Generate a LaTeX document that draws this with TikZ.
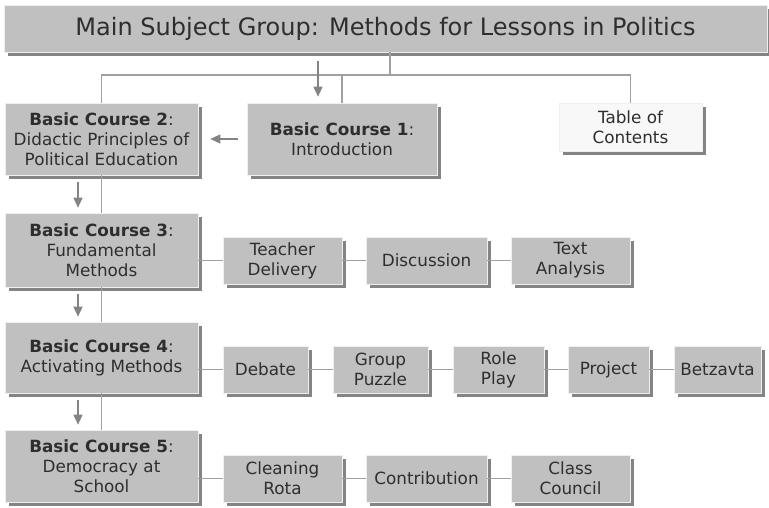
\documentclass[tikz,border=0pt]{standalone}
\usepackage{fontspec}
\setmainfont{DejaVu Sans}
\usetikzlibrary{arrows.meta,shadows}

\definecolor{boxgray}{HTML}{C0C0C0}
\definecolor{shadegray}{HTML}{848484}
\definecolor{linegray}{HTML}{A0A0A0}
\definecolor{txtgray}{HTML}{2E2E2E}
\definecolor{tocwhite}{HTML}{F8F8F8}

\tikzset{
	boxnode/.style={fill=boxgray, draw=white!75!boxgray, line width=0.6pt, text=txtgray,
		align=center, inner sep=0pt, font=\fontsize{16.8}{20}\selectfont,
		drop shadow={shadow xshift=4pt, shadow yshift=-4pt, fill=shadegray, opacity=1}},
	boxsize/.style 2 args={minimum width=#1pt, minimum height=#2pt},
	link/.style={draw=linegray, line width=1.4pt},
	flow/.style={draw=shadegray, line width=1.4pt, -{Triangle[width=9pt,length=10pt]}},
}

\newcommand{\course}[2]{\textbf{Basic Course #1}:\\#2}

\begin{document}
\begin{tikzpicture}[x=1pt,y=-1pt]
\useasboundingbox (0,0) rectangle (769,507);

\pgfmathsetmacro{\colX}{101.5}
\pgfmathsetmacro{\rowC}{260.5}
\pgfmathsetmacro{\rowD}{369.5}
\pgfmathsetmacro{\rowE}{478.5}

\node[boxnode, boxsize={763}{47}, font=\fontsize{24}{28}\selectfont] (main) at (385.5,28.5) {Main Subject Group: Methods for Lessons in Politics};

\node[boxnode, boxsize={190}{72}] (bc1) at (342,139) {\course{1}{Introduction}};
\node[boxnode, boxsize={143}{48}, fill=tocwhite] (toc) at (630.5,127) {Table of\\Contents};

\node[boxnode, boxsize={193}{72}] (bc2) at (\colX,139) {\course{2}{Didactic Principles of\\Political Education}};
\node[boxnode, boxsize={193}{74}] (bc3) at (\colX,250) {\course{3}{Fundamental\\Methods}};
\node[boxnode, boxsize={193}{71}] (bc4) at (\colX,357.5) {\course{4}{Activating Methods}};
\node[boxnode, boxsize={193}{72}] (bc5) at (\colX,466) {\course{5}{Democracy at\\School}};

\node[boxnode, boxsize={119}{47}] (teach) at (282.5,\rowC) {Teacher\\Delivery};
\node[boxnode, boxsize={121}{47}] (disc) at (426.5,\rowC) {Discussion};
\node[boxnode, boxsize={119}{47}] (text) at (570.5,\rowC) {Text\\Analysis};

\node[boxnode, boxsize={85}{47}] (debate) at (265.5,\rowD) {Debate};
\node[boxnode, boxsize={95}{47}] (puzzle) at (380.5,\rowD) {Group\\Puzzle};
\node[boxnode, boxsize={91}{47}] (role) at (498.5,\rowD) {Role\\Play};
\node[boxnode, boxsize={81}{47}] (project) at (608.5,\rowD) {Project};
\node[boxnode, boxsize={87}{47}] (betz) at (717.5,\rowD) {Betzavta};

\node[boxnode, boxsize={119}{47}] (rota) at (282.5,\rowE) {Cleaning\\Rota};
\node[boxnode, boxsize={121}{47}] (contrib) at (426.5,\rowE) {Contribution};
\node[boxnode, boxsize={119}{47}] (council) at (570.5,\rowE) {Class\\Council};

\coordinate (hub) at (390,75);
\coordinate (start) at (318,61);
\draw[link] (main.south -| hub) -- (hub);
\draw[link] (bc2.north) |- (toc.north |- hub) -- (toc.north);
\draw[link] (bc1.north) -- (bc1.north |- hub);

\draw[link] (bc2.south) -- (bc3.north);
\draw[link] (bc3.south) -- (bc4.north);
\draw[link] (bc4.south) -- (bc5.north);

\draw[link] (bc3.east |- teach.west) -- (teach.west);
\draw[link] (teach) -- (disc) -- (text);
\draw[link] (bc4.east |- debate.west) -- (debate.west);
\draw[link] (debate) -- (puzzle) -- (role) -- (project) -- (betz);
\draw[link] (bc5.east |- rota.west) -- (rota.west);
\draw[link] (rota) -- (contrib) -- (council);

\draw[flow, shorten >=6pt] (start) -- (start |- bc1.north);
\draw[flow, shorten <=9pt, shorten >=12pt] (bc1.west) -- (bc2.east);
\draw[flow, shorten <=7pt, shorten >=5pt] ([xshift=-23.5pt]bc2.south) -- ([xshift=-23.5pt]bc3.north);
\draw[flow, shorten <=7pt, shorten >=5pt] ([xshift=-23.5pt]bc3.south) -- ([xshift=-23.5pt]bc4.north);
\draw[flow, shorten <=7pt, shorten >=5pt] ([xshift=-23.5pt]bc4.south) -- ([xshift=-23.5pt]bc5.north);
\end{tikzpicture}
\end{document}
